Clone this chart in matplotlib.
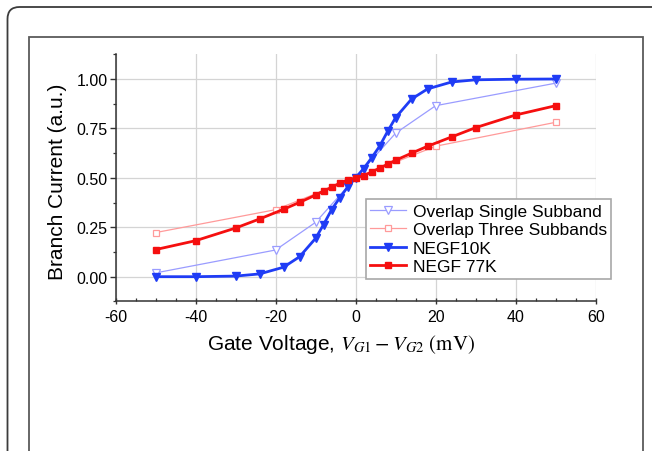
import numpy as np
import matplotlib

matplotlib.use("Agg")
import matplotlib.pyplot as plt
from matplotlib.patches import FancyBboxPatch, Rectangle
from matplotlib.transforms import IdentityTransform

plt.rcParams["font.family"] = ["Liberation Sans", "DejaVu Sans"]
plt.rcParams["mathtext.fontset"] = "stix"
plt.rcParams["axes.unicode_minus"] = False

# --- data ---------------------------------------------------------------------
x_negf = [-50, -40, -30, -24, -18, -14, -10, -8, -6, -4, -2, 0,
          2, 4, 6, 8, 10, 14, 18, 24, 30, 40, 50]
negf_10k = [0.0, 0.0, 0.003, 0.014, 0.048, 0.101, 0.194, 0.264, 0.339, 0.398,
            0.453, 0.5, 0.547, 0.601, 0.660, 0.735, 0.805, 0.899, 0.950,
            0.985, 0.996, 0.999, 1.0]
negf_77k = [0.137, 0.182, 0.246, 0.292, 0.341, 0.376, 0.413, 0.434, 0.452,
            0.473, 0.489, 0.5, 0.511, 0.530, 0.549, 0.569, 0.589, 0.625,
            0.660, 0.707, 0.754, 0.818, 0.865]
x_single = [-50, -20, -10, 10, 20, 50]
overlap_single = [0.019, 0.135, 0.275, 0.726, 0.865, 0.979]
x_three = [-50, -20, 20, 50]
overlap_three = [0.223, 0.339, 0.660, 0.781]

BLUE = "#1f3cf5"
RED = "#f50f0f"
LBLUE = "#9a9cff"
PINK = "#ff9a9a"

W, H = 652, 452
fig = plt.figure(figsize=(W / 100, H / 100), dpi=100)

# page frame: rounded outer box and plain inner box (display pixels)
fig.patches.append(
    FancyBboxPatch((7.5, -30), 700, H - 8 + 30, boxstyle="round,pad=0,rounding_size=12",
                   transform=IdentityTransform(), fill=False, ec="#3c3c3c", lw=1.3)
)
fig.patches.append(
    Rectangle((29, -20), 643 - 29, H - 38.3 + 20, transform=IdentityTransform(),
              fill=False, ec="#5a5a5a", lw=1.3)
)

ax = fig.add_axes([115.5 / W, (H - 302.4) / H, 480.2 / W, 247.1 / H])

ax.plot(x_single, overlap_single, color=LBLUE, lw=0.9, marker="v", ms=6,
        mfc="white", mec=LBLUE, mew=0.9, label="Overlap Single Subband", zorder=3)
ax.plot(x_three, overlap_three, color=PINK, lw=0.9, marker="s", ms=4.5,
        mfc="white", mec=PINK, mew=0.9, label="Overlap Three Subbands", zorder=3)
ax.plot(x_negf, negf_10k, color=BLUE, lw=2.0, marker="v", ms=5.5,
        label="NEGF10K", zorder=4)
ax.plot(x_negf, negf_77k, color=RED, lw=2.0, marker="s", ms=4.2,
        label="NEGF 77K", zorder=4)

ax.set_xlim(-60, 60)
ax.set_ylim(-0.125, 1.125)
ax.set_xticks(np.arange(-60, 61, 20))
ax.set_xticks(np.arange(-60, 61, 5), minor=True)
ax.set_yticks([0, 0.25, 0.5, 0.75, 1.0])
ax.set_yticks(np.arange(-0.125, 1.13, 0.125), minor=True)
ax.set_yticklabels(["0.00", "0.25", "0.50", "0.75", "1.00"])
ax.grid(True, which="major", color="#d4d4d4", lw=0.9)
ax.set_axisbelow(True)

for side in ("top", "right"):
    ax.spines[side].set_visible(False)
for side in ("left", "bottom"):
    ax.spines[side].set_color("#333333")
    ax.spines[side].set_linewidth(1.1)

ax.tick_params(axis="y", which="major", direction="out", length=4.5, width=1.0,
               pad=1, labelsize=11.5, color="#333333")
ax.tick_params(axis="y", which="minor", direction="out", length=2.5, width=0.9,
               color="#333333")
ax.tick_params(axis="x", which="major", direction="inout", length=5, width=1.0,
               pad=3, labelsize=11.5, color="#333333")
ax.tick_params(axis="x", which="minor", direction="in", length=2.2, width=0.9,
               color="#333333")

ax.set_ylabel("Branch Current (a.u.)", fontsize=15)
ax.yaxis.set_label_coords(-0.101, 0.49)
ax.set_xlabel(r"Gate Voltage, $V_{G1} - V_{G2}\ \mathrm{(mV)}$", fontsize=15)
ax.xaxis.set_label_coords(0.47, -0.125)

leg = ax.legend(loc="upper left", bbox_to_anchor=(0.521, 0.414), fontsize=12.5,
                frameon=True, fancybox=False, framealpha=1, edgecolor="#a8a8a8",
                borderaxespad=0, borderpad=0.25, labelspacing=0.2,
                handlelength=2.1, handletextpad=0.35)
leg.get_frame().set_linewidth(1.2)
leg.set_zorder(10)

fig.savefig("out.png", dpi=100)
